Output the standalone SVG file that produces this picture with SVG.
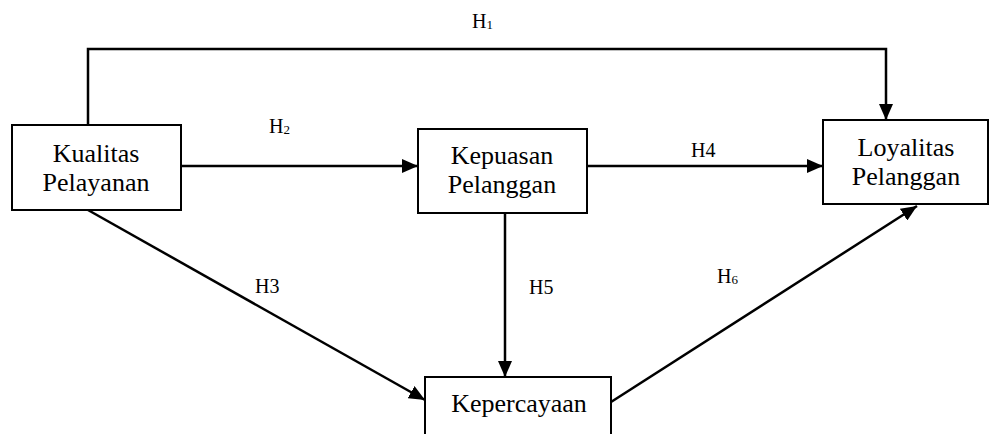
<svg xmlns="http://www.w3.org/2000/svg" width="990" height="434" viewBox="0 0 990 434">
<style>
.box{fill:#fff;stroke:#000;stroke-width:2}
.t{font-family:"Liberation Serif","Times New Roman",serif;font-size:26px;fill:#000;text-anchor:middle}
.h{font-family:"Liberation Serif","Times New Roman",serif;font-size:20px;fill:#000}
.sub{font-size:13px}
.c{fill:none;stroke:#000;stroke-width:2.5}
</style>
<defs>
<marker id="arr" markerUnits="userSpaceOnUse" markerWidth="16" markerHeight="14" refX="16" refY="7" orient="auto">
<path d="M0,0 L16,7 L0,14 z" fill="#000"/>
</marker>
</defs>
<rect width="990" height="434" fill="#fff"/>
<g id="connectors">
<polyline class="c" points="88,125 88,49 886,49 886,120" marker-end="url(#arr)"/>
<line class="c" x1="181" y1="166" x2="418" y2="166" marker-end="url(#arr)"/>
<line class="c" x1="587" y1="166" x2="823" y2="166" marker-end="url(#arr)"/>
<line class="c" x1="505" y1="213" x2="505" y2="377" marker-end="url(#arr)"/>
<line class="c" x1="88" y1="210" x2="425" y2="400" marker-end="url(#arr)"/>
<line class="c" x1="611" y1="402" x2="917" y2="206" marker-end="url(#arr)"/>
<text class="h" x="472" y="28">H<tspan class="sub" dy="1">1</tspan></text>
<text class="h" x="269" y="133">H<tspan class="sub" dy="1">2</tspan></text>
<text class="h" x="691" y="157">H4</text>
<text class="h" x="255" y="293">H3</text>
<text class="h" x="529" y="294">H5</text>
<text class="h" x="717" y="283">H<tspan class="sub" dy="1">6</tspan></text>
</g>
<g id="kualitas">
<rect class="box" x="12" y="125" width="169" height="85"/>
<text class="t" x="96" y="162">Kualitas</text>
<text class="t" x="96" y="191">Pelayanan</text>
</g>
<g id="kepuasan">
<rect class="box" x="418" y="129" width="169" height="84"/>
<text class="t" x="502" y="164">Kepuasan</text>
<text class="t" x="502" y="193">Pelanggan</text>
</g>
<g id="loyalitas">
<rect class="box" x="823" y="120" width="165" height="84"/>
<text class="t" x="906" y="156">Loyalitas</text>
<text class="t" x="906" y="185">Pelanggan</text>
</g>
<g id="kepercayaan">
<rect class="box" x="425" y="377" width="186" height="70"/>
<text class="t" x="519" y="412">Kepercayaan</text>
</g>
</svg>
